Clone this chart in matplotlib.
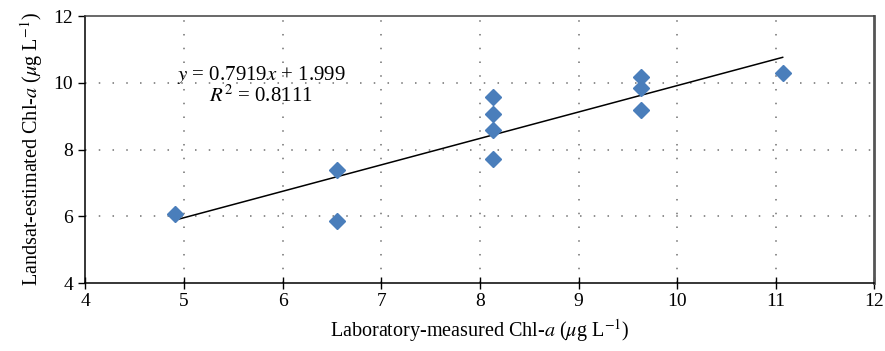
import numpy as np
import matplotlib
matplotlib.use("Agg")
import matplotlib.pyplot as plt

plt.rcParams['font.family'] = ['Liberation Serif', 'DejaVu Serif']
plt.rcParams['mathtext.fontset'] = 'stix'

# measured vs estimated chl-a
lab_x = [4.91, 6.55, 6.55, 8.13, 8.13, 8.13, 8.13, 9.63, 9.63, 9.63, 11.07]
sat_y = [6.07, 7.38, 5.86, 9.57, 9.06, 8.58, 7.71, 10.17, 9.84, 9.18, 10.29]
slope = 0.7919
intercept = 1.999
r2 = 0.8111

fig = plt.figure(figsize=(8.85, 3.51), dpi=100)
ax = fig.add_axes([0.0966, 0.1937, 0.8914, 0.7603])

# gridlines
for gx in range(5, 12):
    ax.axvline(gx, color='#707070', lw=1.1, ls=(0, (1, 8)), zorder=0)
for gy in [6, 8, 10]:
    ax.axhline(gy, color='#707070', lw=1.1, ls=(0, (1, 8)), zorder=0)

xs = np.array([min(lab_x), max(lab_x)])
ax.plot(xs, slope * xs + intercept, color='black', lw=1.1, zorder=2)
ax.plot(lab_x, sat_y, 'D', color='#4a7ebb', ms=8.5, mec='#4a7ebb', zorder=3)

ax.text(5.78, 10.23, r'$y$ = %.4f$x$ + %.3f' % (slope, intercept), ha='center', va='center', fontsize=15)
ax.text(5.78, 9.6, r'$R^2$ = %.4f' % r2, ha='center', va='center', fontsize=15)

ax.set_xlim(4, 12)
ax.set_ylim(4, 12)
ax.set_xticks(range(4, 13))
ax.set_yticks(range(4, 13, 2))
ax.tick_params(axis='x', direction='inout', length=8, width=1, labelsize=14, pad=3)
ax.tick_params(axis='y', direction='out', length=5, width=1, labelsize=14, pad=4)

ax.spines['left'].set_color('black')
ax.spines['bottom'].set_color('black')
ax.spines['top'].set_color('#404040')
ax.spines['right'].set_color('#555555')
ax.spines['right'].set_linewidth(2)
for s in ['left', 'bottom', 'top']:
    ax.spines[s].set_linewidth(1.1)

ax.set_xlabel(r'Laboratory-measured Chl-$a$ ($\mu$g L$^{-1}$)', fontsize=14.5, labelpad=5)
ax.set_ylabel(r'Landsat-estimated Chl-$a$ ($\mu$g L$^{-1}$)', fontsize=14.5, labelpad=6)

fig.savefig('out.png', dpi=100)
